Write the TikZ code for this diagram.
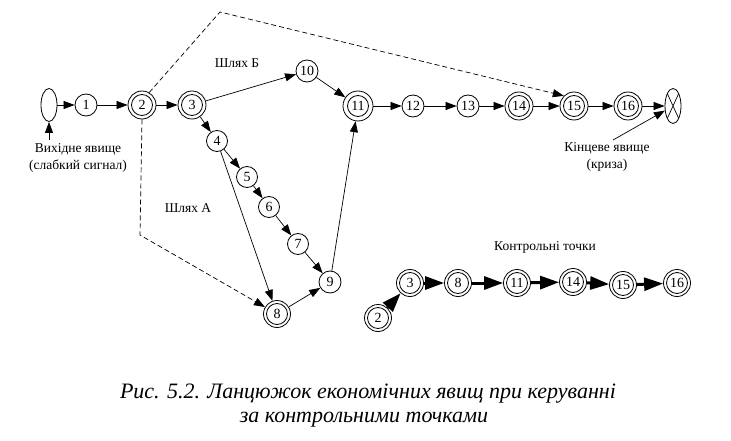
\documentclass[tikz,border=0pt]{standalone}
\usepackage{fontspec}
\setmainfont{Liberation Serif}
\usetikzlibrary{arrows.meta,shapes.geometric}
\tikzset{
  sn/.style={circle,draw,line width=0.8pt,minimum size=22pt,inner sep=0pt,font=\fontsize{14}{15}\selectfont},
  dn/.style={circle,draw,line width=0.8pt,minimum size=28pt,inner sep=0pt,font=\fontsize{14}{15}\selectfont,
     path picture={\draw[line width=0.8pt] (path picture bounding box.center) circle (10.5pt);}},
  ev/.style={ellipse,draw,line width=0.8pt,minimum width=16pt,minimum height=33pt,inner sep=0pt},
  ar/.style={-{Triangle[length=11pt,width=8pt]},line width=0.7pt},
  tar/.style={-{Triangle[length=19pt,width=13pt]},line width=3pt},
  dsh/.style={dashed,dash pattern=on 5pt off 3pt,line width=0.7pt},
  lbl/.style={font=\fontsize{13.5}{17}\selectfont,align=center,inner sep=0pt},
  captxt/.style={font=\fontsize{22}{24}\selectfont\itshape,inner sep=0pt,anchor=base},
}
\begin{document}
\begin{tikzpicture}[x=1pt,y=-1pt]
\useasboundingbox (0,0) rectangle (731,441);
% main chain
\node[ev] (s) at (49,105) {};
\node[sn] (n1) at (86,105) {1};
\node[dn] (n2) at (142,105) {2};
\node[dn] (n3) at (192,105) {3};
\node[sn,minimum size=21pt] (n4) at (217,141) {4};
\node[sn,minimum size=21pt] (n5) at (247,177) {5};
\node[sn,minimum size=21pt] (n6) at (269,207) {6};
\node[sn,minimum size=21pt] (n7) at (298,244) {7};
\node[dn,minimum size=27pt] (n8) at (277,314) {8};
\node[sn] (n9) at (330,282) {9};
\node[sn] (n10) at (307,71) {10};
\node[dn,minimum size=30pt] (n11) at (358,106) {11};
\node[sn] (n12) at (413,106) {12};
\node[sn] (n13) at (468,106) {13};
\node[dn] (n14) at (519,106) {14};
\node[dn] (n15) at (574,106) {15};
\node[dn] (n16) at (628,106) {16};
\node[ev,minimum height=35pt,path picture={\draw[line width=0.7pt] (path picture bounding box.north west) -- (path picture bounding box.south east) (path picture bounding box.north east) -- (path picture bounding box.south west);}] (e) at (673,106) {};

\draw[ar] (s) -- (n1);
\draw[ar] (n1) -- (n2);
\draw[ar] (n2) -- (n3);
\draw[ar] (n3) -- (n10);
\draw[ar] (n10) -- (n11);
\draw[ar] (n11) -- (n12);
\draw[ar] (n12) -- (n13);
\draw[ar] (n13) -- (n14);
\draw[ar] (n14) -- (n15);
\draw[ar] (n15) -- (n16);
\draw[ar] (n16) -- (e);
\draw[ar] (n3) -- (n4);
\draw[ar] (n4) -- (n5);
\draw[ar] (n5) -- (n6);
\draw[ar] (n6) -- (n7);
\draw[ar] (n7) -- (n9);
\draw[ar] (n4) -- (n8);
\draw[ar] (n8) -- (n9);
\draw[ar] (n9) -- (n11);

\coordinate (c1) at (220,12);
\coordinate (c2) at (140,235);
\draw[dsh,-{Triangle[length=11pt,width=8pt]}] (n2.60) -- (c1) -- (n15.135);
\draw[dsh,-{Triangle[length=11pt,width=8pt]}] (n2.south) -- (c2) -- (n8);

% labels
\node[lbl] (lstart) at (78,158) {Вихідне явище\\(слабкий сигнал)};
\coordinate (cs) at (49,140);
\draw[ar] (cs) -- (s.south);
\node[lbl] (lend) at (607,157) {Кінцеве явище\\(криза)};
\coordinate (ce) at (613,140);
\draw[ar] (ce) -- (e);
\node[lbl] (pb) at (237,63) {Шлях Б};
\node[lbl] (pa) at (188,208) {Шлях А};

% control points
\node[lbl] (kt) at (545,247) {Контрольні точки};
\node[dn,minimum size=27pt] (b3) at (410,283) {3};
\node[dn,minimum size=27pt] (b8) at (458,283) {8};
\node[dn,minimum size=27pt] (b11) at (517,283) {11};
\node[dn,minimum size=27pt] (b14) at (573,282) {14};
\node[dn,minimum size=27pt] (b15) at (623,285) {15};
\node[dn,minimum size=27pt] (b16) at (677,283) {16};
\node[dn,minimum size=27pt] (b2) at (378,318) {2};
\draw[tar] (b2) -- (b3);
\draw[tar] (b3) -- (b8);
\draw[tar] (b8) -- (b11);
\draw[tar] (b11) -- (b14);
\draw[tar] (b14) -- (b15);
\draw[tar] (b15) -- (b16);

% caption
\node[captxt] (cap1) at (368,398) {Рис. 5.2. Ланцюжок економічних явищ при керуванні};
\node[captxt] (cap2) at (364,422) {за контрольними точками};
\end{tikzpicture}
\end{document}
